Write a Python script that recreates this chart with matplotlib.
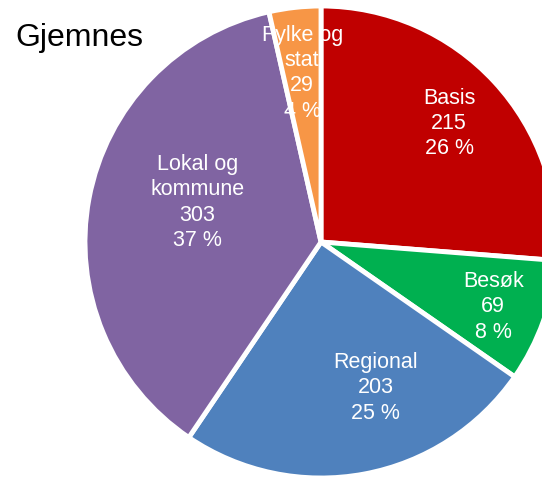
import numpy as np
from matplotlib import pyplot as plt

# data
labels = ["Basis", "Besøk", "Regional", "Lokal og\nkommune", "Fylke og\nstat"]
values = [215, 69, 203, 303, 29]
colors = ["#C00000", "#00B050", "#4F81BD", "#8064A2", "#F79646"]
title = "Gjemnes"

# label placement per slice: (radius fraction, angle tweak in degrees)
label_pos = [(0.74, 0), (0.78, -1), (0.66, 10), (0.55, -7), (0.72, 0)]

plt.rcParams["font.family"] = ["Liberation Sans", "DejaVu Sans"]

fig = plt.figure(figsize=(5.42, 4.8), dpi=100)
ax = fig.add_axes([0, 0, 1, 1])

r_px = 236.0
cx, cy = 321.0, 242.0
W, H = 542.0, 480.0

wedges, _ = ax.pie(
    values,
    colors=colors,
    startangle=90,
    counterclock=False,
    radius=1.0,
    wedgeprops=dict(edgecolor="white", linewidth=3.5),
)

total = float(np.sum(values))
for w, lab, v, (rf, dang) in zip(wedges, labels, values, label_pos):
    mid = np.deg2rad(0.5 * (w.theta1 + w.theta2) + dang)
    pct = int(round(100 * v / total))
    ax.text(
        rf * np.cos(mid),
        rf * np.sin(mid),
        "%s\n%d\n%d %%" % (lab, v, pct),
        ha="center",
        va="center",
        color="white",
        fontsize=15.5,
        linespacing=1.27,
    )

ax.set_xlim(-cx / r_px, (W - cx) / r_px)
ax.set_ylim(-(H - cy) / r_px, cy / r_px)
ax.set_aspect("auto")
ax.axis("off")

fig.text(15 / W, 1 - 38 / H, title, fontsize=23, ha="left", va="center")

fig.savefig("out.png", dpi=100)
